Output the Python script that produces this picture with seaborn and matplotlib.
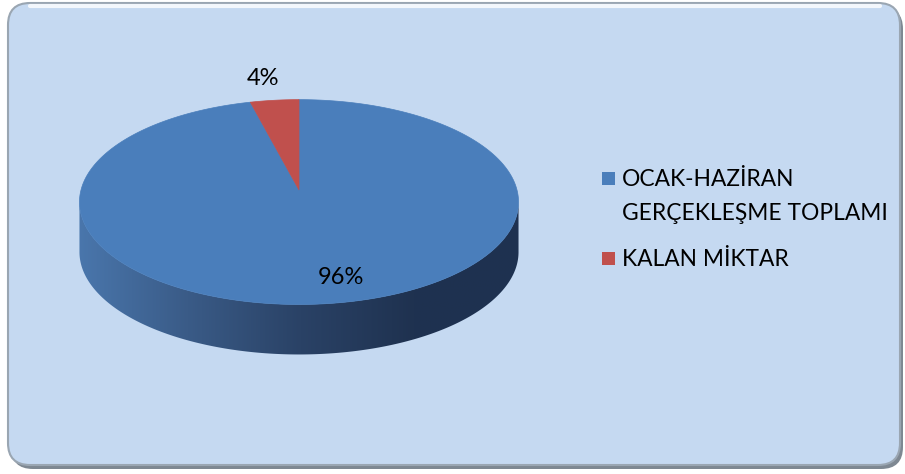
import numpy as np
import matplotlib
matplotlib.use("Agg")
import matplotlib.pyplot as plt
from matplotlib.patches import Polygon, FancyBboxPatch, Rectangle
from matplotlib.colors import LinearSegmentedColormap
import seaborn as sns

# ---- data ----
categories = ["OCAK-HAZİRAN\nGERÇEKLEŞME TOPLAMI", "KALAN MİKTAR"]
values = [96, 4]
pct_labels = ["96%", "4%"]

sns.set_theme(style="white")
plt.rcParams["font.family"] = ["Lato", "DejaVu Sans"]
colors = sns.color_palette(["#4A7EBB", "#C0504D"])

W, H = 905, 474
fig = plt.figure(figsize=(W / 100, H / 100), dpi=100)
fig.patch.set_facecolor("white")
ax = fig.add_axes([0, 0, 1, 1])
ax.set_xlim(0, W)
ax.set_ylim(H, 0)
ax.axis("off")

# ---- frame ----
ax.add_patch(FancyBboxPatch((11, 7), 892, 462, boxstyle="round,pad=0,rounding_size=22",
                            facecolor="#7E8892", edgecolor="none", zorder=0))
ax.add_patch(FancyBboxPatch((8, 3), 892, 462, boxstyle="round,pad=0,rounding_size=22",
                            facecolor="#C5D9F1", edgecolor="#9AA6B2", linewidth=1.5, zorder=1))
ax.plot([30, 880], [6, 6], color="white", lw=3, alpha=0.8, zorder=2, solid_capstyle="round")

# ---- 3D pie geometry (perspective) ----
CX, CY = 299, 190
A, B, D = 101.0, 218.0, 8.5
DEPTH = 50

def proj(u, v, z=0.0):
    s = D / (D + v)
    return CX + B * u * s, CY - A * v * s + z

# side (front) surface
t_left = np.pi + np.arcsin(1 / D)
t_right = 2 * np.pi - np.arcsin(1 / D)
ts = np.linspace(t_left, t_right, 300)
top_arc = [proj(np.cos(t), np.sin(t)) for t in ts]
bot_arc = [proj(np.cos(t), np.sin(t), DEPTH) for t in ts[::-1]]
side = Polygon(top_arc + bot_arc, closed=True, facecolor="none", edgecolor="none", zorder=3)
ax.add_patch(side)
cmap = LinearSegmentedColormap.from_list("side", ["#4A77AD", "#3A5B87", "#2A4266", "#1F3250", "#1E3150"])
grad = np.linspace(0, 1, 256).reshape(1, -1)
im = ax.imshow(grad, cmap=cmap, extent=(75, 525, 370, 170), aspect="auto", zorder=3,
               interpolation="bilinear")
im.set_clip_path(side)

# top face wedges: first slice clockwise from 12 o'clock
total = float(sum(values))
start = 90.0
for val, col in zip(values, colors):
    sweep = 360.0 * val / total
    th = np.radians(np.linspace(start, start - sweep, 400))
    pts = [proj(0, 0)] + [proj(np.cos(t), np.sin(t)) for t in th]
    ax.add_patch(Polygon(pts, closed=True, facecolor=col, edgecolor=col, lw=0.5, zorder=4))
    start -= sweep

# percent labels
ax.text(341, 278, pct_labels[0], fontsize=17, ha="center", va="center", color="black", zorder=6)
ax.text(263, 78, pct_labels[1], fontsize=17, ha="center", va="center", color="black", zorder=6)

# legend
leg_y = [178, 258]
for lab, col, y in zip(categories, colors, leg_y):
    ax.add_patch(Rectangle((602, y - 6), 13, 13, facecolor=col, edgecolor="none", zorder=6))
    for i, line in enumerate(lab.split("\n")):
        ax.text(622, y + 1 + 34 * i, line, fontsize=16.4, ha="left", va="center",
                color="black", zorder=6)

fig.savefig("out.png", dpi=100)
